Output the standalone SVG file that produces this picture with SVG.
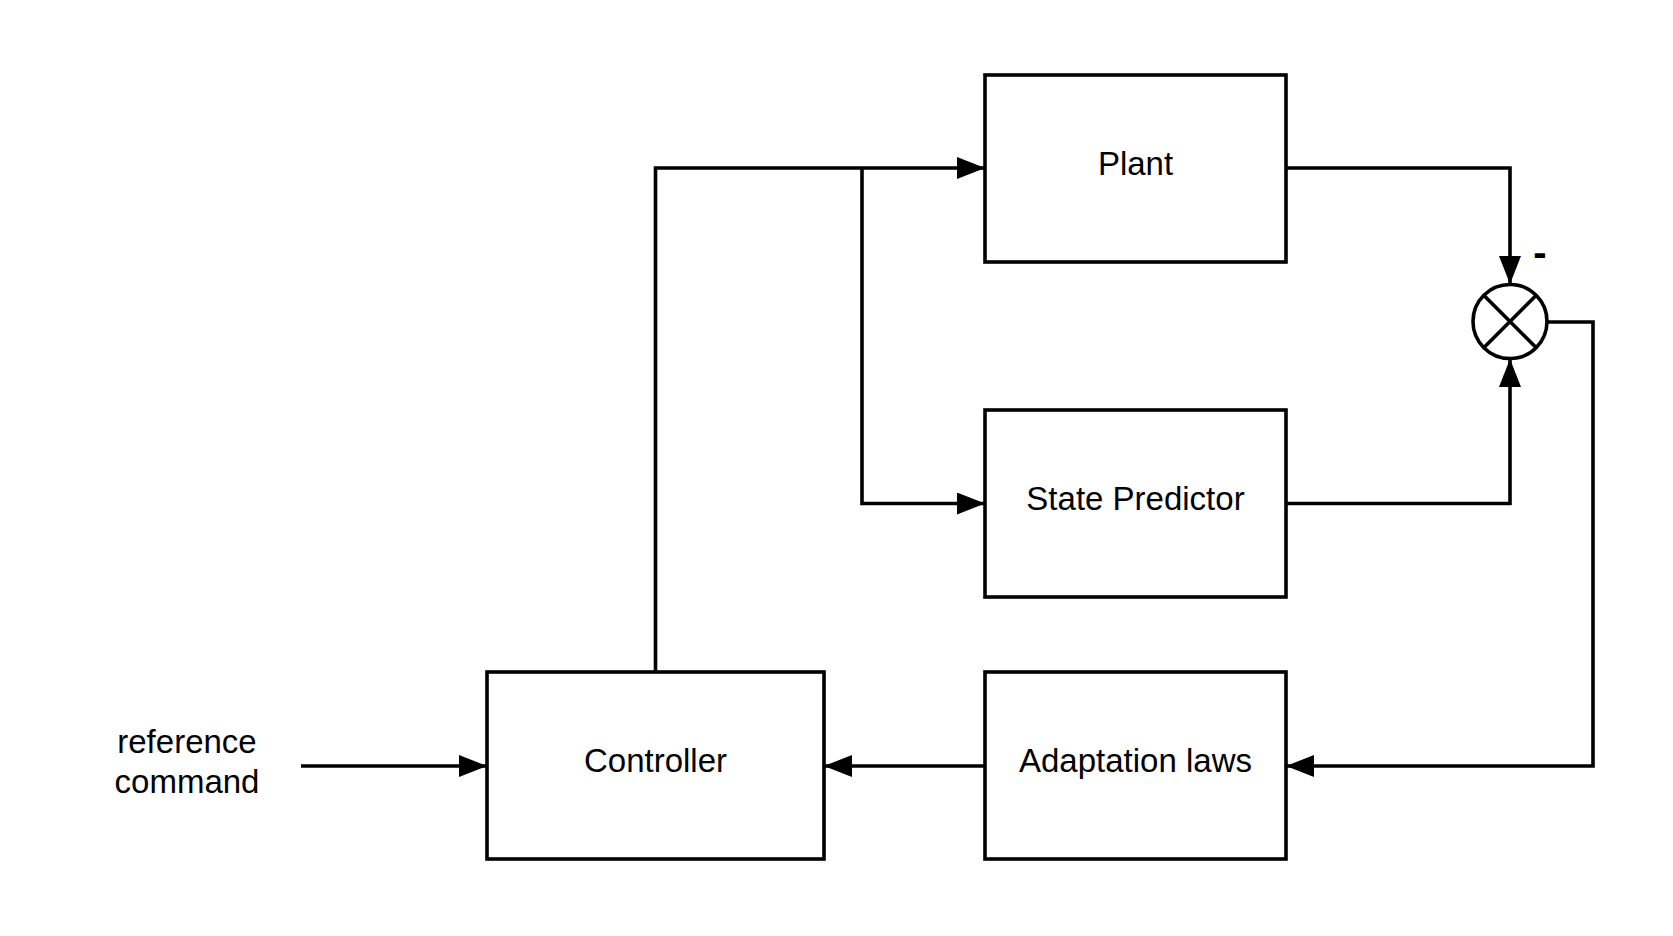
<svg xmlns="http://www.w3.org/2000/svg" width="1673" height="936" viewBox="0 0 1673 936">
<style>
.box{fill:#fff;stroke:#000;stroke-width:3.6}
.lbl{font-family:"Liberation Sans",Arial,sans-serif;font-size:33px;fill:#000;text-anchor:middle}
.wire{fill:none;stroke:#000;stroke-width:3.6}
</style>
<defs>
<marker id="arr" markerUnits="userSpaceOnUse" markerWidth="30" markerHeight="24" refX="28" refY="11" orient="auto">
<path d="M0,0 L28,11 L0,22 z" fill="#000"/>
</marker>
</defs>
<rect width="1673" height="936" fill="#fff"/>
<g id="connectors">
<path class="wire" d="M655.5,672 V168 H985" marker-end="url(#arr)"/>
<path class="wire" d="M862,168 V503.5 H985" marker-end="url(#arr)"/>
<path class="wire" d="M1286,168 H1510 V284" marker-end="url(#arr)"/>
<path class="wire" d="M1286,503.5 H1510 V359" marker-end="url(#arr)"/>
<path class="wire" d="M1547,322 H1593 V766 H1286" marker-end="url(#arr)"/>
<path class="wire" d="M985,766 H824" marker-end="url(#arr)"/>
<path class="wire" d="M301,766 H487" marker-end="url(#arr)"/>
</g>
<g id="plant">
<rect class="box" x="985" y="75" width="301" height="187"/>
<text class="lbl" x="1135.5" y="175">Plant</text>
</g>
<g id="state-predictor">
<rect class="box" x="985" y="410" width="301" height="187"/>
<text class="lbl" x="1135.5" y="510">State Predictor</text>
</g>
<g id="adaptation-laws">
<rect class="box" x="985" y="672" width="301" height="187"/>
<text class="lbl" x="1135.5" y="772">Adaptation laws</text>
</g>
<g id="controller">
<rect class="box" x="487" y="672" width="337" height="187"/>
<text class="lbl" x="655.5" y="772">Controller</text>
</g>
<g id="summing-junction">
<circle cx="1510" cy="321.5" r="37" fill="#fff" stroke="#000" stroke-width="3.6"/>
<path class="wire" d="M1484,295.5 L1536,347.5 M1536,295.5 L1484,347.5"/>
<text x="1540" y="266" font-family="Liberation Sans,Arial,sans-serif" font-size="40" font-weight="bold" text-anchor="middle">-</text>
</g>
<g id="reference-command">
<text class="lbl" x="187" y="753">reference</text>
<text class="lbl" x="187" y="793">command</text>
</g>
</svg>
